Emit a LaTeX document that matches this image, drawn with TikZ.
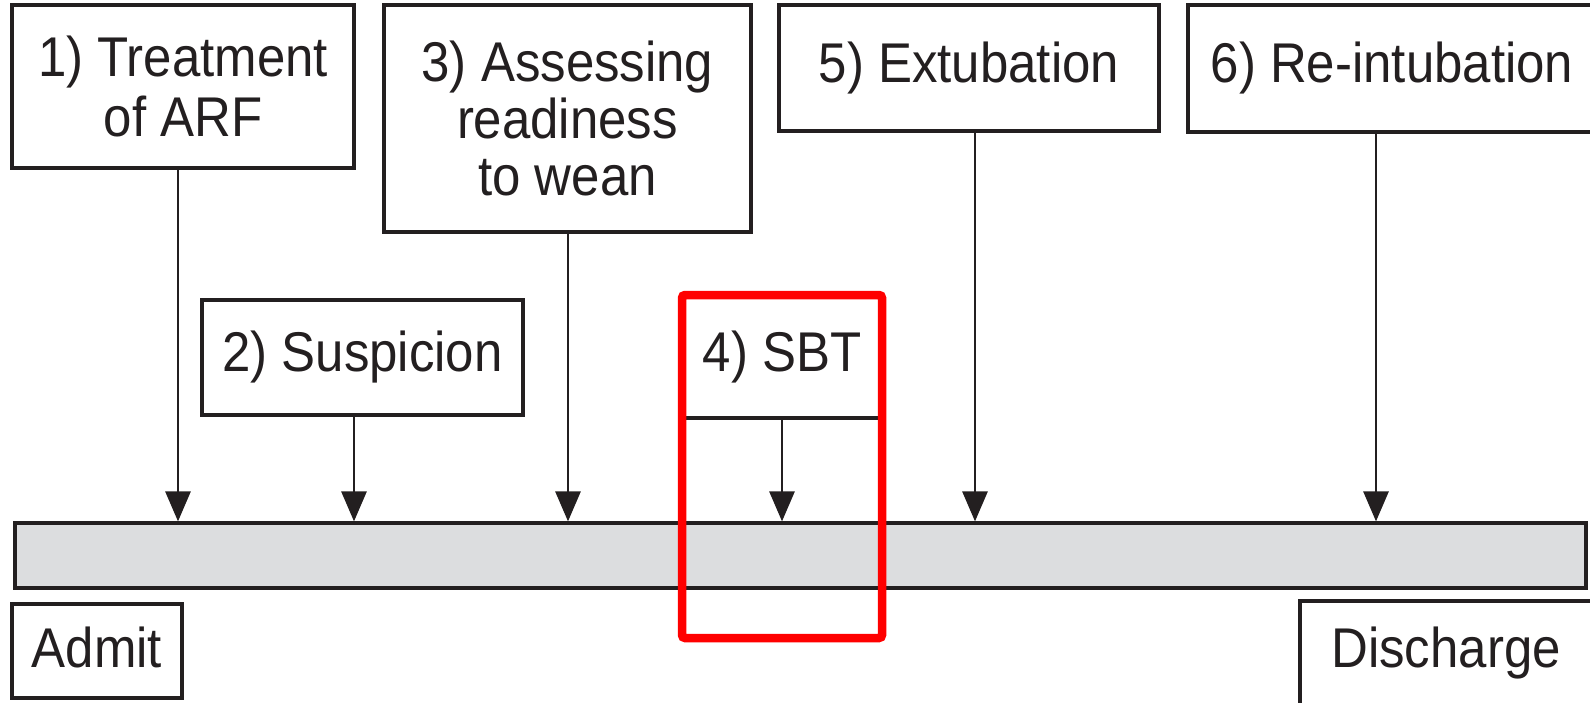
\documentclass[tikz,border=0pt]{standalone}
\usepackage{fontspec}
\setmainfont{Liberation Sans}[FakeStretch=0.91]
\usetikzlibrary{arrows.meta}
\definecolor{ink}{HTML}{231F20}
\definecolor{barfill}{HTML}{DCDDDF}
\definecolor{mark}{HTML}{FF0000}
\begin{document}
\begin{tikzpicture}[x=1pt,y=-1pt,
  stage/.style={draw=ink, line width=3.2pt, fill=white, inner sep=0pt,
    align=center, text=ink, font=\fontsize{56}{60}\selectfont},
  pointer/.style={draw=ink, line width=2.8pt, -{Triangle[width=25pt,length=30pt]}},
]
\clip (0,0) rectangle (1590,702);
\fill[white] (0,0) rectangle (1590,702);

% timeline bar
\node[draw=ink, fill=barfill, line width=3.2pt, inner sep=0pt,
  minimum width=1571pt, minimum height=65pt] (bar) at (800.5,555.5) {};

% upper row of stages
\node[stage, minimum width=342pt, minimum height=163pt] (s1) at (183,86.5) {1) Treatment\\of ARF};
\node[stage, minimum width=367pt, minimum height=227pt, font=\fontsize{56}{57}\selectfont] (s3) at (567.5,118.5) {3) Assessing\\readiness\\to wean};
\node[stage, minimum width=380pt, minimum height=126pt] (s5) at (969,68) {5) Extubation};
\node[stage, minimum width=408pt, minimum height=127pt] (s6) at (1392,68.5) {6) Re-intubation};

% middle row of stages
\node[stage, minimum width=321pt, minimum height=115pt] (s2) at (362.5,357.5) {2) Suspicion};
\node[stage, minimum width=198pt, minimum height=121pt] (s4) at (782,357.5) {4) SBT};

% end points of the stay
\node[stage, minimum width=170pt, minimum height=94pt] (admit) at (97,651) {\raisebox{8pt}{Admit}};
\node[stage, minimum width=292pt, minimum height=105pt] (discharge) at (1446,653.5) {\raisebox{5pt}{Discharge}};

% points on the bar where each stage happens
\coordinate (t1) at (178,523);
\coordinate (t2) at (354,523);
\coordinate (t3) at (568,523);
\coordinate (t4) at (782,523);
\coordinate (t5) at (975,523);
\coordinate (t6) at (1376,523);

\draw[pointer] (s1.south -| t1) -- (t1 |- bar.north);
\draw[pointer] (s2.south -| t2) -- (t2 |- bar.north);
\draw[pointer] (s3.south -| t3) -- (t3 |- bar.north);
\draw[pointer] (s4.south -| t4) -- (t4 |- bar.north);
\draw[pointer] (s5.south -| t5) -- (t5 |- bar.north);
\draw[pointer] (s6.south -| t6) -- (t6 |- bar.north);

% red highlight around the SBT step
\node[draw=mark, line width=8.5pt, rounded corners=3pt, inner sep=0pt,
  minimum width=200pt, minimum height=343pt] (highlight) at (782,466.5) {};
\end{tikzpicture}
\end{document}
